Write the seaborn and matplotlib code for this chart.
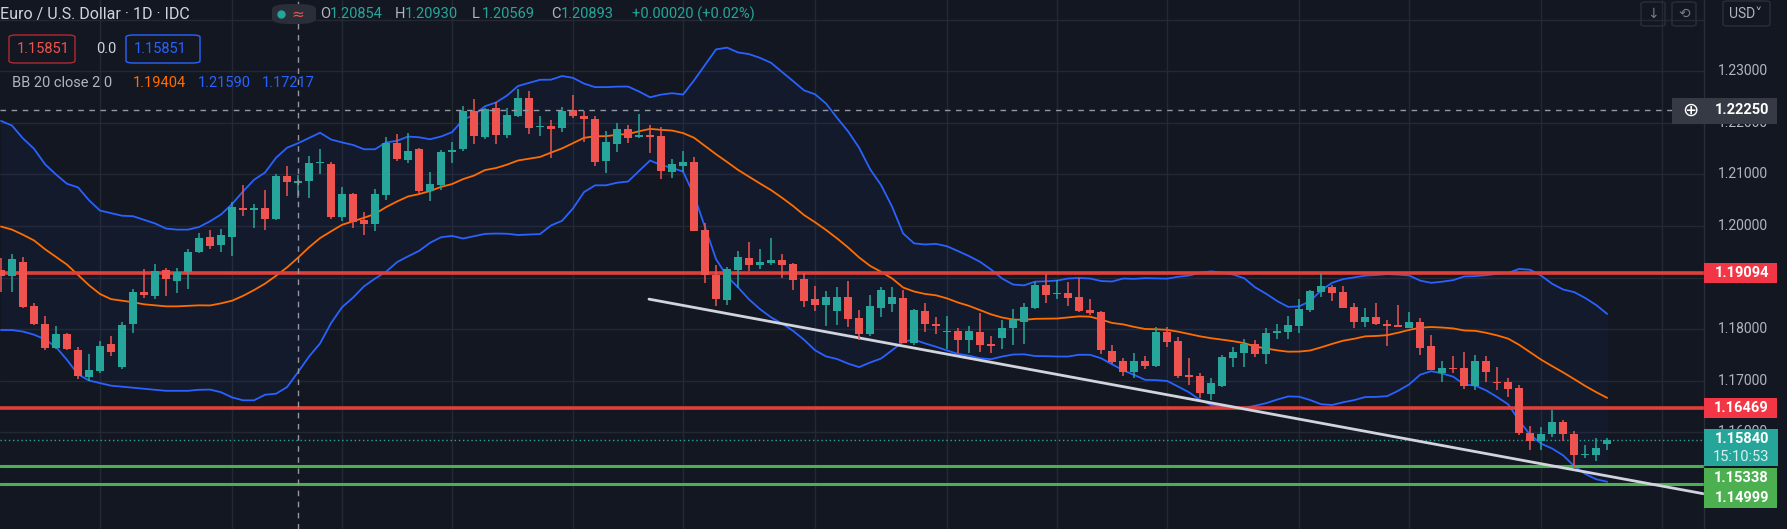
import numpy as np
import pandas as pd
import matplotlib
matplotlib.use("Agg")
import matplotlib.pyplot as plt
import seaborn as sns
from matplotlib.patches import Rectangle, FancyBboxPatch

# ---------------- data (EUR/USD daily) ----------------
opens = [1.1914,1.1902,1.1931,1.1845,1.1810,1.1764,1.1791,1.1759,1.1707,1.1719,
         1.1771,1.1726,1.1809,1.1871,1.1865,1.1915,1.1894,1.1911,1.1949,1.1979,
         1.1964,1.1979,1.2035,1.2032,1.2035,1.2014,1.2098,1.2084,1.2087,1.2122,
         1.2121,1.2018,1.2062,1.2012,1.2004,1.2060,1.2162,1.2128,1.2149,1.2068,
         1.2080,1.2144,1.2149,1.2223,1.2172,1.2230,1.2176,1.2213,1.2249,1.2192,
         1.2194,1.2191,1.2226,1.2213,1.2208,1.2126,1.2159,1.2189,1.2172,1.2177,
         1.2174,1.2105,1.2116,1.2125,1.1992,1.1905,1.1857,1.1914,1.1938,1.1924,
         1.1929,1.1934,1.1926,1.1897,1.1859,1.1847,1.1835,1.1862,1.1821,1.1791,
         1.1841,1.1849,1.1860,1.1773,1.1835,1.1810,1.1795,1.1796,1.1779,1.1794,
         1.1770,1.1783,1.1801,1.1814,1.1841,1.1886,1.1868,1.1870,1.1862,1.1836,
         1.1833,1.1758,1.1738,1.1717,1.1738,1.1729,1.1794,1.1777,1.1710,1.1708,
         1.1674,1.1690,1.1743,1.1753,1.1770,1.1751,1.1792,1.1794,1.1806,1.1837,
         1.1871,1.1881,1.1871,1.1842,1.1813,1.1823,1.1809,1.1808,1.1801,1.1813,
         1.1767,1.1714,1.1725,1.1725,1.1690,1.1738,1.1698,1.1697,1.1685,1.1598,
         1.1583,1.1596,1.1619,1.1596,1.1555,1.1555,1.1577]
highs = [1.1937,1.1946,1.1940,1.1851,1.1825,1.1805,1.1793,1.1765,1.1751,1.1776,
         1.1786,1.1813,1.1877,1.1916,1.1927,1.1918,1.1919,1.1955,1.1987,1.1992,
         1.1995,1.2047,1.2079,1.2043,1.2070,1.2100,1.2116,1.2099,1.2135,1.2150,
         1.2124,1.2075,1.2064,1.2027,1.2071,1.2172,1.2178,1.2181,1.2152,1.2105,
         1.2147,1.2164,1.2233,1.2246,1.2230,1.2241,1.2230,1.2266,1.2262,1.2213,
         1.2205,1.2231,1.2255,1.2224,1.2214,1.2185,1.2200,1.2196,1.2218,1.2196,
         1.2192,1.2131,1.2146,1.2134,1.2005,1.1924,1.1920,1.1951,1.1969,1.1956,
         1.1976,1.1945,1.1929,1.1908,1.1884,1.1873,1.1881,1.1894,1.1836,1.1866,
         1.1881,1.1881,1.1875,1.1839,1.1850,1.1823,1.1826,1.1801,1.1806,1.1831,
         1.1786,1.1817,1.1839,1.1850,1.1891,1.1907,1.1895,1.1892,1.1900,1.1859,
         1.1835,1.1768,1.1743,1.1754,1.1747,1.1804,1.1804,1.1785,1.1743,1.1715,
         1.1704,1.1749,1.1765,1.1781,1.1778,1.1801,1.1809,1.1826,1.1858,1.1876,
         1.1908,1.1886,1.1884,1.1850,1.1840,1.1850,1.1817,1.1846,1.1833,1.1822,
         1.1789,1.1737,1.1747,1.1756,1.1749,1.1747,1.1727,1.1705,1.1691,1.1612,
         1.1610,1.1643,1.1623,1.1602,1.1575,1.1588,1.1588]
lows = [1.1871,1.1871,1.1840,1.1807,1.1759,1.1761,1.1759,1.1703,1.1700,1.1714,
        1.1747,1.1722,1.1792,1.1860,1.1858,1.1865,1.1869,1.1877,1.1947,1.1955,
        1.1950,1.1942,1.2020,1.1997,1.1993,1.2011,1.2058,1.2055,1.2055,1.2100,
        1.2014,1.2009,1.1997,1.1983,1.1991,1.2051,1.2126,1.2122,1.2064,1.2049,
        1.2070,1.2123,1.2145,1.2159,1.2168,1.2159,1.2170,1.2212,1.2179,1.2174,
        1.2132,1.2183,1.2210,1.2163,1.2117,1.2102,1.2144,1.2162,1.2171,1.2142,
        1.2091,1.2094,1.2105,1.1991,1.1890,1.1845,1.1847,1.1880,1.1913,1.1916,
        1.1924,1.1900,1.1876,1.1842,1.1835,1.1806,1.1807,1.1804,1.1779,1.1786,
        1.1824,1.1833,1.1772,1.1768,1.1794,1.1791,1.1762,1.1754,1.1753,1.1756,
        1.1753,1.1762,1.1768,1.1770,1.1839,1.1850,1.1859,1.1844,1.1833,1.1828,
        1.1752,1.1733,1.1708,1.1704,1.1722,1.1727,1.1765,1.1704,1.1692,1.1666,
        1.1662,1.1688,1.1726,1.1726,1.1745,1.1733,1.1781,1.1781,1.1792,1.1833,
        1.1863,1.1854,1.1840,1.1801,1.1804,1.1808,1.1767,1.1803,1.1801,1.1749,
        1.1721,1.1698,1.1714,1.1683,1.1682,1.1698,1.1682,1.1668,1.1594,1.1565,
        1.1565,1.1590,1.1583,1.1530,1.1549,1.1544,1.1565]
closes = [1.1902,1.1935,1.1843,1.1810,1.1764,1.1791,1.1762,1.1709,1.1720,1.1767,
          1.1756,1.1808,1.1871,1.1866,1.1913,1.1898,1.1911,1.1950,1.1977,1.1962,
          1.1983,1.2037,1.2032,1.2035,1.2014,1.2097,1.2085,1.2088,1.2123,1.2124,
          1.2018,1.2062,1.2008,1.2003,1.2062,1.2162,1.2130,1.2146,1.2068,1.2081,
          1.2144,1.2147,1.2223,1.2174,1.2228,1.2176,1.2216,1.2249,1.2191,1.2194,
          1.2188,1.2223,1.2213,1.2208,1.2125,1.2163,1.2189,1.2171,1.2177,1.2172,
          1.2107,1.2120,1.2125,1.1991,1.1905,1.1858,1.1917,1.1940,1.1925,1.1931,
          1.1934,1.1924,1.1895,1.1854,1.1847,1.1862,1.1862,1.1820,1.1791,1.1844,
          1.1876,1.1862,1.1773,1.1836,1.1810,1.1805,1.1797,1.1779,1.1796,1.1768,
          1.1767,1.1802,1.1817,1.1842,1.1886,1.1866,1.1870,1.1860,1.1835,1.1832,
          1.1760,1.1735,1.1717,1.1738,1.1729,1.1794,1.1775,1.1708,1.1706,1.1676,
          1.1695,1.1746,1.1756,1.1770,1.1751,1.1792,1.1797,1.1808,1.1839,1.1873,
          1.1883,1.1870,1.1840,1.1813,1.1823,1.1810,1.1806,1.1803,1.1813,1.1764,
          1.1721,1.1725,1.1722,1.1690,1.1737,1.1716,1.1695,1.1683,1.1598,1.1583,
          1.1596,1.1619,1.1596,1.1555,1.1557,1.1569,1.1584]

# Bollinger band values read for the first 19 sessions (history before the window)
early_upper = [1.2204,1.2195,1.2170,1.2150,1.2120,1.2100,1.2082,1.2075,1.2050,1.2030,
               1.2025,1.2020,1.2019,1.2012,1.2005,1.1995,1.1993,1.1993,1.1998]
early_mid   = [1.1999,1.1993,1.1983,1.1972,1.1955,1.1940,1.1925,1.1905,1.1885,1.1868,
               1.1858,1.1855,1.1852,1.1848,1.1846,1.1844,1.1844,1.1845,1.1846]
early_lower = [1.1798,1.1798,1.1795,1.1789,1.1780,1.1765,1.1740,1.1712,1.1700,1.1695,
               1.1690,1.1688,1.1686,1.1684,1.1682,1.1680,1.1680,1.1680,1.1682]

res_levels = [1.19094, 1.16469]
sup_levels = [1.15338, 1.14999]
last_price = 1.15840
cross_price = 1.22250
cross_idx = 27
trend_idx = [58.9, 154.8]
trend_price = [1.1858, 1.1480]
month_idx = [9, 21, 31, 41, 52, 62, 74, 86, 96, 106, 118, 128, 140, 151]
scale_ticks = [1.16, 1.17, 1.18, 1.20, 1.21, 1.22, 1.23]

# ---------------- style ----------------
BG = "#131722"; GRID = "#242833"; TXT = "#b2b5be"
UP = "#26a69a"; DN = "#ef5350"
sns.set_theme(style="dark", rc={"axes.facecolor": BG, "figure.facecolor": BG})
plt.rcParams['font.family'] = ['Roboto', 'DejaVu Sans']

W, H = 1787, 529
fig = plt.figure(figsize=(W/100, H/100), dpi=100)
ax = fig.add_axes([0, 0, 1704/W, 1])
ax.set_facecolor(BG)
ax.set_xlim(-0.09, 154.8)
ax.set_ylim(1.14117, 1.24388)

n = len(closes)
df = pd.DataFrame({"i": np.arange(n), "o": opens, "h": highs, "l": lows, "c": closes})
roll = df["c"].rolling(20)
mid = roll.mean(); sd = roll.std(ddof=0)
upper = mid + 2*sd; lower = mid - 2*sd
ne = len(early_mid)
mid[:ne] = early_mid; upper[:ne] = early_upper; lower[:ne] = early_lower
df["mid"], df["up"], df["lo"] = mid, upper, lower

for p in np.arange(1.15, 1.245, 0.01):
    ax.axhline(p, color=GRID, lw=1, zorder=0)
for m in month_idx:
    ax.axvline(m, color=GRID, lw=1, zorder=0)

ax.fill_between(df["i"], df["lo"], df["up"], color="#2962ff", alpha=0.045, lw=0, zorder=1)
sns.lineplot(data=df, x="i", y="up", color="#2962ff", lw=1.3, ax=ax, zorder=2)
sns.lineplot(data=df, x="i", y="lo", color="#2962ff", lw=1.3, ax=ax, zorder=2)
sns.lineplot(data=df, x="i", y="mid", color="#ff6d00", lw=1.3, ax=ax, zorder=2)

for p in res_levels:
    ax.axhline(p, color="#e0403a", lw=2.6, zorder=3)
for p in sup_levels:
    ax.axhline(p, color="#4caf50", lw=2.2, zorder=3)
ax.axhline(last_price, color=UP, lw=1, ls=(0, (1, 2)), zorder=3)
ax.plot(trend_idx, trend_price, color="#d1d4dc", lw=2, zorder=4)

col = np.where(df["c"] >= df["o"], UP, DN)
ax.vlines(df["i"], df["l"], df["h"], colors=col, lw=1.1, zorder=5)
bot = np.minimum(df["o"], df["c"]); ht = np.maximum(np.abs(df["c"] - df["o"]), 0.00012)
ax.bar(df["i"], ht, bottom=bot, width=0.72, color=col, lw=0, zorder=6)

ax.axvline(cross_idx, color="#9598a1", lw=1, ls=(0, (4, 4)), zorder=7)
ax.axhline(cross_price, color="#9598a1", lw=1, ls=(0, (4, 4)), xmax=1677/1704, zorder=7)

ax.set_xticks([]); ax.set_yticks([])
for s in ax.spines.values():
    s.set_visible(False)
ax.set_xlabel(""); ax.set_ylabel("")

ytr = ax.get_yaxis_transform()
for p in scale_ticks:
    ax.text(1.0 + 14/1704, p, f"{p:.5f}", transform=ytr, color=TXT, fontsize=10,
            va="center", ha="left", clip_on=False, zorder=1)
fig.add_artist(plt.Line2D([1704/W, 1704/W], [0, 1], color="#2a2e39", lw=1))

fig.canvas.draw()
def ytop(p):
    return H - ax.transData.transform((0, p))[1]

def plabel(yp, text, fc, h=20, x0=1704, x1=1777):
    fig.add_artist(Rectangle((x0/W, 1 - (yp + h/2)/H), (x1-x0)/W, h/H, transform=fig.transFigure,
                             facecolor=fc, edgecolor="none", zorder=10))
    fig.text((x1-8)/W, 1 - yp/H, text, color="white", fontsize=10.5, ha="right", va="center",
             weight="bold", zorder=11)

plabel(ytop(res_levels[0]), "1.19094", "#f23645")
plabel(ytop(res_levels[1]), "1.16469", "#f23645")
fig.add_artist(Rectangle((1704/W, 1 - 466/H), 74/W, 37/H, transform=fig.transFigure,
                         facecolor=UP, edgecolor="none", zorder=10))
fig.text(1769/W, 1 - 439/H, "1.15840", color="white", fontsize=10.5, ha="right", va="center", weight="bold", zorder=11)
fig.text(1769/W, 1 - 457/H, "15:10:53", color="#d7f1ee", fontsize=10.5, ha="right", va="center", zorder=11)
plabel(478, "1.15338", "#4caf50")
plabel(498, "1.14999", "#4caf50")
fig.add_artist(Rectangle((1672/W, 1 - 124/H), 105/W, 26/H, transform=fig.transFigure,
                         facecolor="#363a45", edgecolor="none", zorder=10))
fig.text(1769/W, 1 - ytop(cross_price)/H, "1.22250", color="white", fontsize=10.5,
         ha="right", va="center", weight="bold", zorder=11)
fig.text(1690/W, 1 - ytop(cross_price)/H, "⊕", color="white", fontsize=14,
         ha="center", va="center", zorder=11, family=['DejaVu Sans'])

def t(x, y, s, c=TXT, fs=10.5, **kw):
    fig.text(x/W, 1 - y/H, s, color=c, fontsize=fs, va="center", ha="left", **kw)

t(0, 14, "Euro / U.S. Dollar · 1D · IDC", c="#d1d4dc", fs=11.5)
fig.add_artist(FancyBboxPatch((272/W, 1-24/H), 44/W, 20/H, boxstyle="round,pad=0,rounding_size=0.01",
                              transform=fig.transFigure, facecolor="#2a2e39", edgecolor="none"))
fig.add_artist(plt.Line2D([281/W], [1-14/H], marker="o", color=UP, ms=5))
t(291, 14, "≈", c=DN, fs=11, family=['DejaVu Sans'])
parts = [("O", 320, "1.20854"), ("H", 395, "1.20930"), ("L", 472, "1.20569"), ("C", 551, "1.20893")]
for lab, x, v in parts:
    t(x, 14, lab, c=TXT)
    t(x + 10, 14, v, c=UP)
t(632, 14, "+0.00020 (+0.02%)", c=UP)

for x0, x1, ec, s, c in [(9, 75, "#b22833", "1.15851", DN), (126, 200, "#2962ff", "1.15851", "#2962ff")]:
    fig.add_artist(FancyBboxPatch((x0/W, 1-63/H), (x1-x0)/W, 28/H, boxstyle="round,pad=0,rounding_size=0.004",
                                  transform=fig.transFigure, facecolor="none", edgecolor=ec, lw=1))
    t(x0 + 8, 49, s, c=c)
t(96, 49, "0.0", c="#d1d4dc")

t(12, 83, "BB 20 close 2 0", c=TXT)
t(133, 83, "1.19404", c="#ff6d00")
t(198, 83, "1.21590", c="#2962ff")
t(262, 83, "1.17217", c="#2962ff")

for x0, s in [(1641, "↓"), (1672, "⟲")]:
    fig.add_artist(FancyBboxPatch((x0/W, 1-26/H), 24/W, 24/H, boxstyle="round,pad=0,rounding_size=0.003",
                                  transform=fig.transFigure, facecolor="none", edgecolor="#2a2e39", lw=1))
    fig.text((x0+12)/W, 1-14/H, s, color="#787b86", fontsize=10, ha="center", va="center", family=['DejaVu Sans'])
fig.add_artist(FancyBboxPatch((1723/W, 1-26/H), 47/W, 25/H, boxstyle="round,pad=0,rounding_size=0.003",
                              transform=fig.transFigure, facecolor=BG, edgecolor="#2a2e39", lw=1, zorder=10))
fig.text(1746/W, 1-14/H, "USD˅", color=TXT, fontsize=10, ha="center", va="center", zorder=11)

fig.savefig("out.png", dpi=100, facecolor=BG)
